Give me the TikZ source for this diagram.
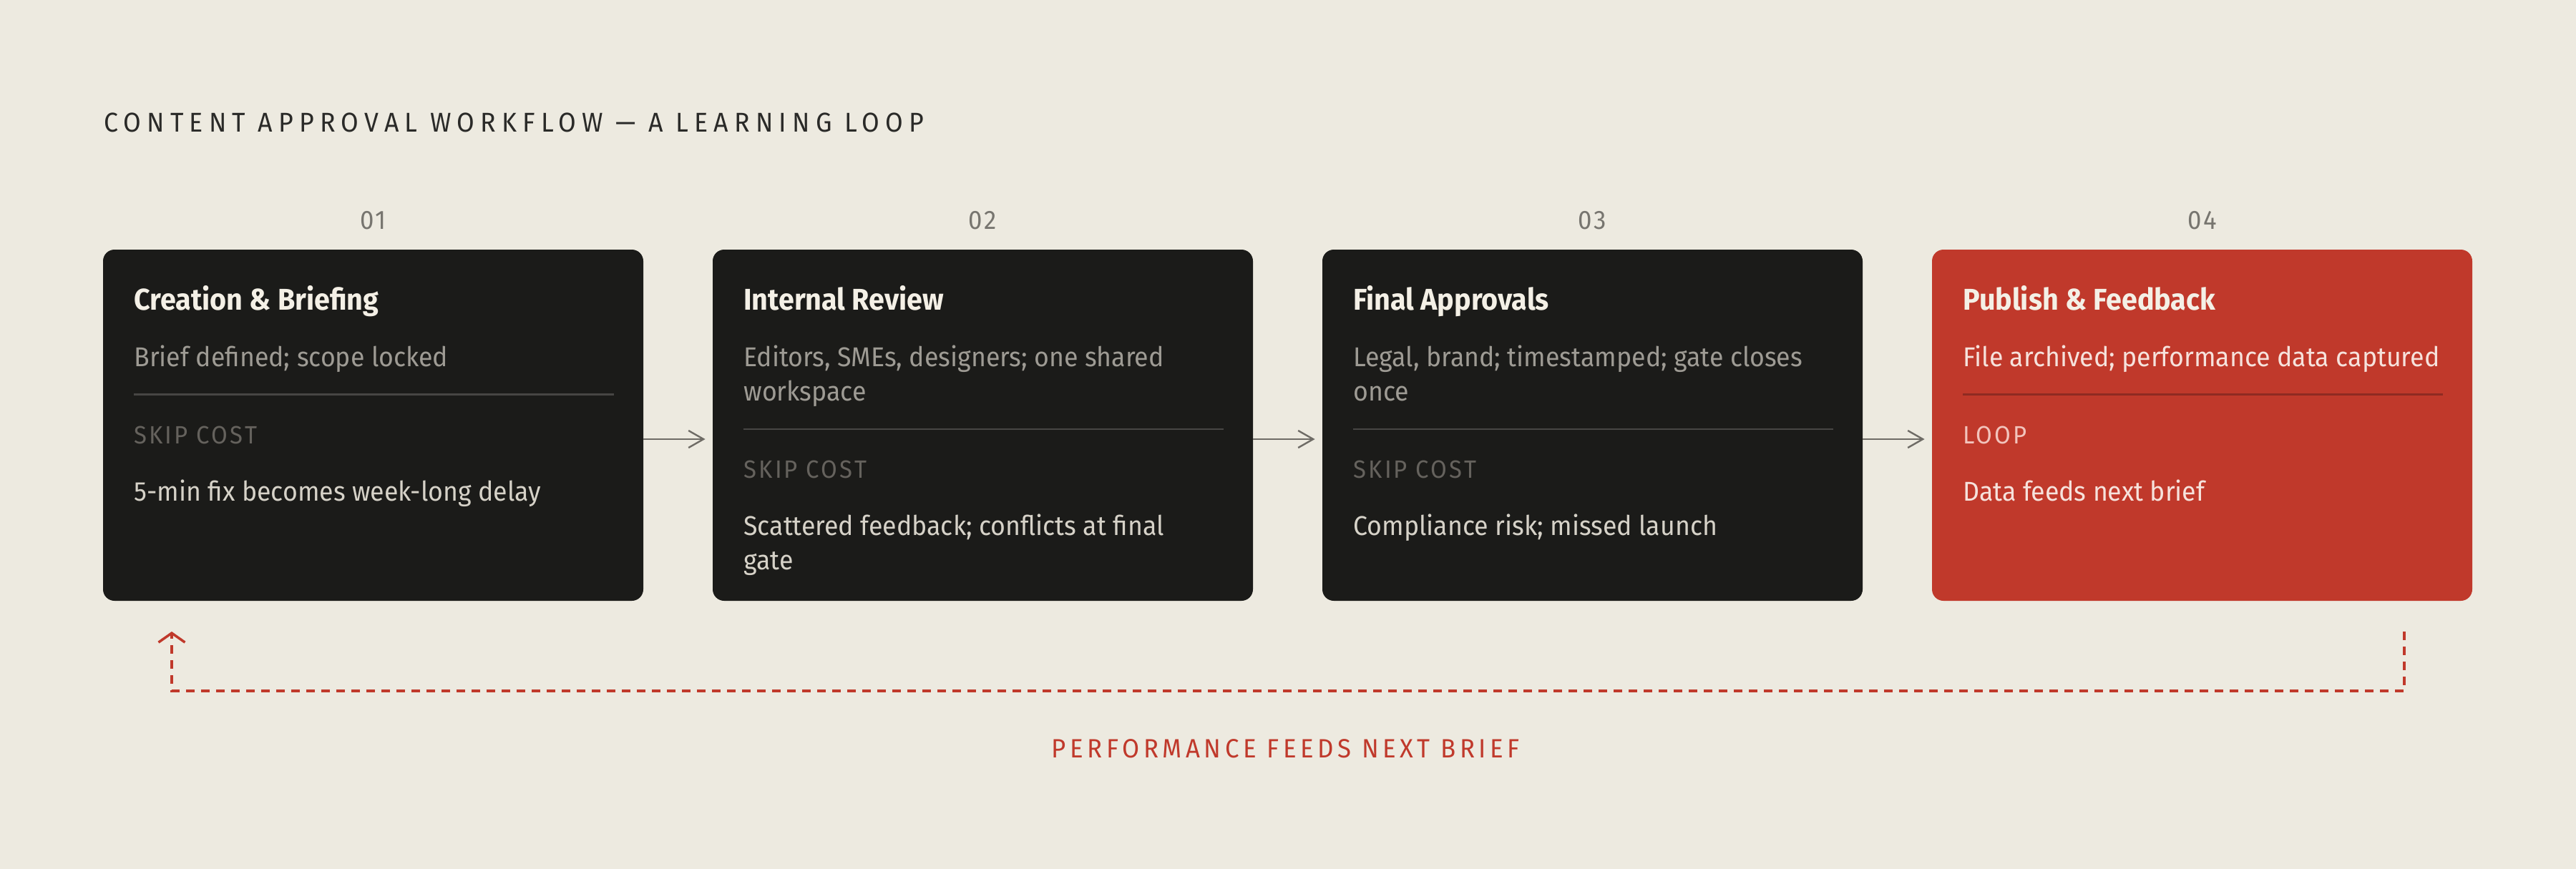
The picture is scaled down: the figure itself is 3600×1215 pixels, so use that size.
\documentclass[tikz,border=0pt]{standalone}
\usepackage{fontspec}
\setmainfont{Fira Sans}[FakeStretch=0.94]
\newfontfamily\headfont{Fira Sans}[FakeStretch=0.94, LetterSpace=21.5]
\newfontfamily\numfont{Fira Sans}[FakeStretch=0.94, LetterSpace=8]
\newfontfamily\labfont{Fira Sans}[FakeStretch=0.94, LetterSpace=9]
\newfontfamily\capfont{Fira Sans}[FakeStretch=0.94, LetterSpace=15]
\usetikzlibrary{arrows.meta}
\definecolor{bgc}{HTML}{EDEAE0}
\definecolor{darkc}{HTML}{1B1B19}
\definecolor{redc}{HTML}{C0392B}
\definecolor{titlec}{HTML}{F4F0E6}
\definecolor{bodyc}{HTML}{9E9B94}
\definecolor{labc}{HTML}{65625D}
\definecolor{notec}{HTML}{D6D2C8}
\definecolor{divc}{HTML}{474644}
\definecolor{rbodyc}{HTML}{F6E2DC}
\definecolor{rlabc}{HTML}{F2C4BC}
\definecolor{rdivc}{HTML}{8F2A22}
\definecolor{headc}{HTML}{2A2A28}
\definecolor{numc}{HTML}{77756F}
\definecolor{arrc}{HTML}{6F6C66}
\begin{document}
\begin{tikzpicture}[x=0.5pt,y=-0.5pt,
  stage/.style={rectangle, rounded corners=8pt, minimum width=377.5pt, minimum height=245.5pt, inner sep=0pt, draw=none},
  ttl/.style={anchor=base west, inner sep=0pt, text=titlec, font=\bfseries\fontsize{21}{24}\selectfont},
  body/.style={anchor=base west, inner sep=0pt, text=bodyc, font=\fontsize{19}{24}\selectfont},
  lab/.style={anchor=base west, inner sep=0pt, text=labc, font=\labfont\fontsize{17.5}{20}\selectfont},
  note/.style={anchor=base west, inner sep=0pt, text=notec, font=\fontsize{19}{24}\selectfont},
  num/.style={anchor=base, inner sep=0pt, text=numc, font=\numfont\fontsize{18.5}{20}\selectfont},
  divider/.style={draw=divc, line width=1.3pt},
  flow/.style={draw=arrc, line width=1.2pt, -{Straight Barb[length=10.5pt,width=12pt]}},
  loopline/.style={draw=redc, line width=1.75pt, dash pattern=on 6pt off 4.5pt, -{Straight Barb[length=6.5pt,width=18.5pt]}}
]
\fill[bgc] (0,0) rectangle (3600,1215);
\useasboundingbox (0,0) rectangle (3600,1215);

\node[anchor=base west, inner sep=0pt, text=headc, font=\headfont\fontsize{19}{20}\selectfont] (head) at (145,184.6) {CONTENT APPROVAL WORKFLOW — A LEARNING LOOP};

% numbers
\node[num] (k1) at (521.5,320) {01};
\node[num] (k2) at (1373.5,320) {02};
\node[num] (k3) at (2225.5,320) {03};
\node[num] (k4) at (3077.5,320) {04};

% boxes
\node[stage, fill=darkc] (b1) at (521.5,594.5) {};
\node[stage, fill=darkc] (b2) at (1373.5,594.5) {};
\node[stage, fill=darkc] (b3) at (2225.5,594.5) {};
\node[stage, fill=redc] (b4) at (3077.5,594.5) {};

% box 1
\node[ttl] (t1) at (187,433) {Creation \& Briefing};
\node[body] (d1) at (187,512) {Brief defined; scope locked};
\draw[divider] (187,551.5) -- (858,551.5);
\node[lab] (l1) at (187,620) {SKIP COST};
\node[note] (n1) at (187,700) {5-min fix becomes week-long delay};

% box 2
\node[ttl] (t2) at (1039,433) {Internal Review};
\node[body] (d2a) at (1039,512) {Editors, SMEs, designers; one shared};
\node[body] (d2b) at (1039,560) {workspace};
\draw[divider] (1039,600) -- (1710,600);
\node[lab] (l2) at (1039,668) {SKIP COST};
\node[note] (n2a) at (1039,748) {Scattered feedback; conflicts at final};
\node[note] (n2b) at (1039,796) {gate};

% box 3
\node[ttl] (t3) at (1891,433) {Final Approvals};
\node[body] (d3a) at (1891,512) {Legal, brand; timestamped; gate closes};
\node[body] (d3b) at (1891,560) {once};
\draw[divider] (1891,600) -- (2562,600);
\node[lab] (l3) at (1891,668) {SKIP COST};
\node[note] (n3) at (1891,748) {Compliance risk; missed launch};

% box 4
\node[ttl] (t4) at (2743,433) {Publish \& Feedback};
\node[body, text=rbodyc] (d4) at (2743,512) {File archived; performance data captured};
\draw[divider, draw=rdivc] (2743,551.5) -- (3414,551.5);
\node[lab, text=rlabc] (l4) at (2743,620) {LOOP};
\node[note, text=rbodyc] (n4) at (2743,700) {Data feeds next brief};

% flow arrows
\draw[flow] ([yshift=-9.75pt]b1.east) -- ([xshift=-5pt,yshift=-9.75pt]b2.west);
\draw[flow] ([yshift=-9.75pt]b2.east) -- ([xshift=-5pt,yshift=-9.75pt]b3.west);
\draw[flow] ([yshift=-9.75pt]b3.east) -- ([xshift=-5pt,yshift=-9.75pt]b4.west);

% feedback loop
\coordinate (fbA) at (3360,883);
\coordinate (fbB) at (240,883);
\draw[loopline] (fbA) -- (3360,966) -- (240,966) -- (fbB);
\node[anchor=base, inner sep=0pt, text=redc, font=\capfont\fontsize{18.5}{20}\selectfont] (cap) at (1797,1059) {PERFORMANCE FEEDS NEXT BRIEF};
\end{tikzpicture}
\end{document}
